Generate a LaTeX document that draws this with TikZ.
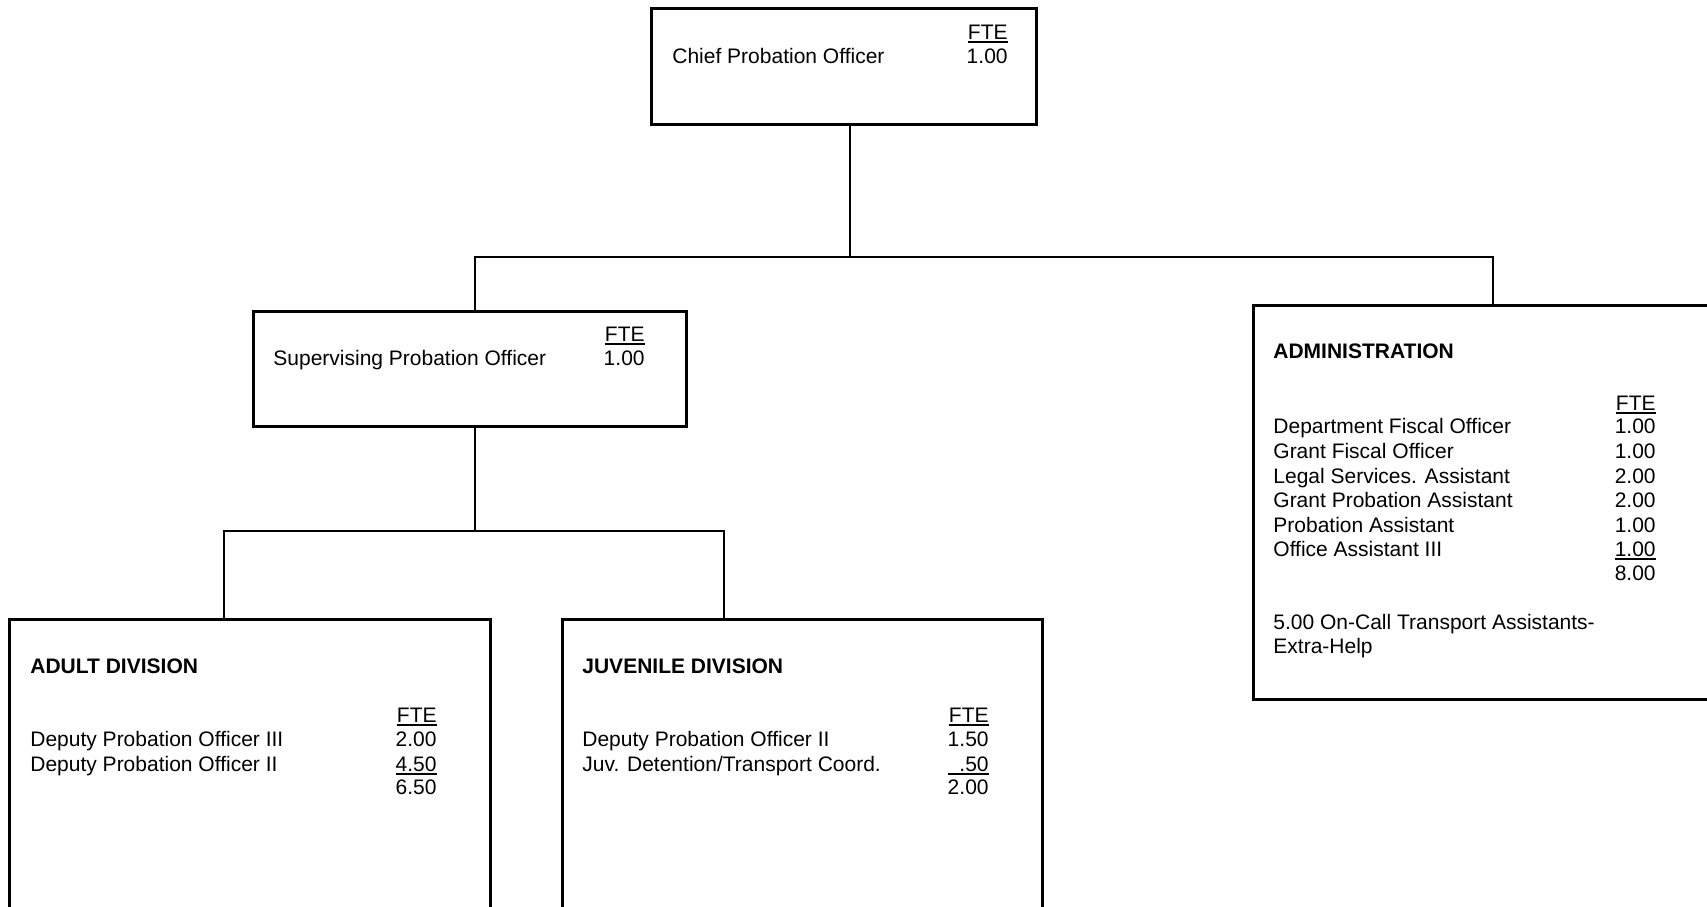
\documentclass[tikz,border=0pt]{standalone}
\usepackage{fontspec}
\setmainfont{Liberation Sans}
\newcommand\myul[1]{\setbox0\hbox{#1}\rlap{\rule[-1.8pt]{\wd0}{1pt}}\box0}
\begin{document}
\begin{tikzpicture}[x=0.5pt,y=-0.5pt,
  box/.style={draw, line width=1.35pt, inner sep=0pt, anchor=north west},
  conn/.style={line width=1.35pt},
  lbl/.style={anchor=base west, inner sep=0pt, font=\fontsize{10.5}{12}\selectfont},
  num/.style={anchor=base east, inner sep=0pt, font=\fontsize{10.5}{12}\selectfont},
  head/.style={anchor=base west, inner sep=0pt, font=\fontsize{10.5}{12}\selectfont\bfseries}]
\useasboundingbox (0,0) rectangle (1707,906);
\clip (0,0) rectangle (1707,906);
\fill[white] (0,0) rectangle (1707,906);

% boxes
\node[box, minimum width=192.5pt, minimum height=58pt] (chief) at (650,7) {};
\node[box, minimum width=216.5pt, minimum height=57.5pt] (sup) at (252,310) {};
\node[box, minimum width=241pt, minimum height=197pt] (admin) at (1252,304) {};
\node[box, minimum width=240.5pt, minimum height=175pt] (adult) at (8,618) {};
\node[box, minimum width=240pt, minimum height=175pt] (juv) at (561,618) {};

% connector junctions
\coordinate (b1) at (850,257);
\coordinate (b1L) at (475,257);
\coordinate (b1R) at (1493,257);
\coordinate (b2) at (475,531);
\coordinate (b2L) at (224,531);
\coordinate (b2R) at (724,531);

\draw[conn] (chief.south -| b1) -- (b1);
\draw[conn] (sup.north -| b1L) -- (b1L) -- (b1R) -- (admin.north -| b1R);
\draw[conn] (sup.south -| b2) -- (b2);
\draw[conn] (adult.north -| b2L) -- (b2L) -- (b2R) -- (juv.north -| b2R);

% chief
\node[lbl] (c1) at (672,63) {Chief Probation Officer};
\node[num] (cf) at (1008,39) {\myul{FTE}};
\node[num] (cn) at (1008,63) {1.00};

% supervising
\node[lbl] (s1) at (273,365) {Supervising Probation Officer};
\node[num] (sf) at (645,341) {\myul{FTE}};
\node[num] (sn) at (645,365) {1.00};

% administration
\node[head] (ah) at (1273,358) {ADMINISTRATION};
\node[num] (af) at (1656,410) {\myul{FTE}};
\node[lbl] (a1) at (1273,433) {Department Fiscal Officer};
\node[num] (an1) at (1656,433) {1.00};
\node[lbl] (a2) at (1273,458) {Grant Fiscal Officer};
\node[num] (an2) at (1656,458) {1.00};
\node[lbl] (a3) at (1273,483) {Legal Services. Assistant};
\node[num] (an3) at (1656,483) {2.00};
\node[lbl] (a4) at (1273,507) {Grant Probation Assistant};
\node[num] (an4) at (1656,507) {2.00};
\node[lbl] (a5) at (1273,532) {Probation Assistant};
\node[num] (an5) at (1656,532) {1.00};
\node[lbl] (a6) at (1273,556) {Office Assistant III};
\node[num] (an6) at (1656,556) {\myul{1.00}};
\node[num] (at) at (1656,580) {8.00};
\node[lbl] (a7) at (1273,629) {5.00 On-Call Transport Assistants-};
\node[lbl] (a8) at (1273,653) {Extra-Help};

% adult division
\node[head] (dh) at (30,673) {ADULT DIVISION};
\node[num] (df) at (437,722) {\myul{FTE}};
\node[lbl] (d1) at (30,746) {Deputy Probation Officer III};
\node[num] (dn1) at (437,746) {2.00};
\node[lbl] (d2) at (30,771) {Deputy Probation Officer II};
\node[num] (dn2) at (437,771) {\myul{4.50}};
\node[num] (dt) at (437,794) {6.50};

% juvenile division
\node[head] (jh) at (582,673) {JUVENILE DIVISION};
\node[num] (jf) at (989,722) {\myul{FTE}};
\node[lbl] (j1) at (582,746) {Deputy Probation Officer II};
\node[num] (jn1) at (989,746) {1.50};
\node[lbl] (j2) at (582,771) {Juv. Detention/Transport Coord.};
\node[num] (jn2) at (989,771) {\myul{\phantom{0}.50}};
\node[num] (jt) at (989,794) {2.00};
\end{tikzpicture}
\end{document}
